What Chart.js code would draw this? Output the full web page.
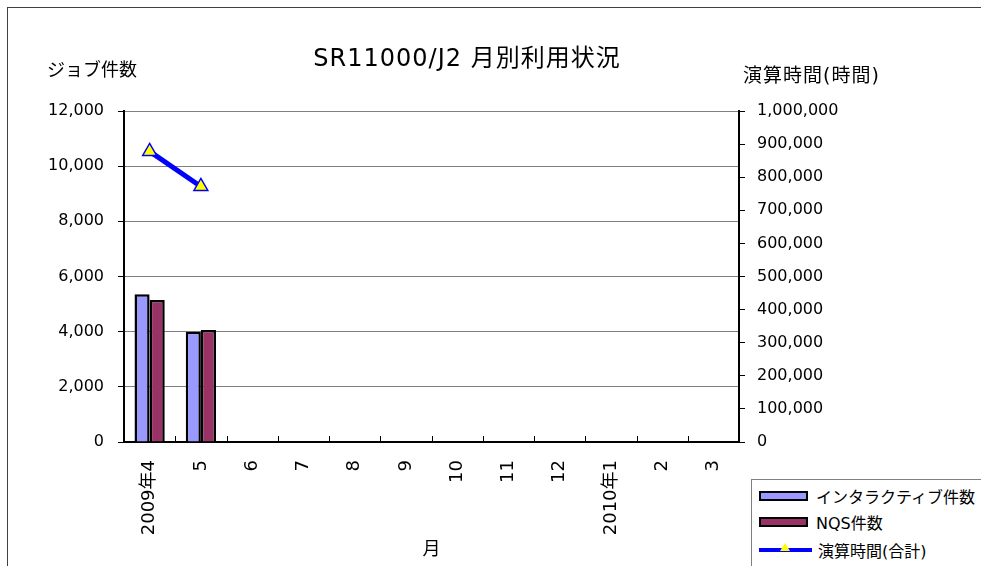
<!DOCTYPE html>
<html>
<head>
<meta charset="utf-8">
<script src="https://cdn.jsdelivr.net/npm/chart.js@4/dist/chart.umd.min.js"></script>
<style>
  body { margin: 0; background: #fff; }
  #wrap { position: relative; width: 981px; height: 566px; overflow: hidden; }
  #legend {
    position: absolute; left: 751px; top: 479px; width: 232px; height: 92px;
    border: 1px solid #808080; background: #fff;
    font-family: "DejaVu Sans", "Noto Sans CJK JP", sans-serif; font-size: 16px; color: #000;
  }
  .row { position: absolute; left: 7px; height: 20px; display: flex; align-items: center; white-space: nowrap; }
  .sw { width: 45px; height: 6px; border: 2px solid #000; margin-right: 8px; }
  .ln { position: relative; width: 53px; height: 4px; background: #0000ff; margin-right: 6px; }
  .ln span {
    position: absolute; left: 21px; top: -5px; width: 0; height: 0;
    border-left: 5px solid transparent; border-right: 5px solid transparent;
    border-bottom: 8px solid #ffff00;
  }
</style>
</head>
<body>
<div id="wrap">
  <canvas id="chart" width="981" height="566"></canvas>
  <div id="legend">
    <div class="row" style="top:6px"><div class="sw" style="background:#9999ff"></div>インタラクティブ件数</div>
    <div class="row" style="top:32px"><div class="sw" style="background:#993366"></div>NQS件数</div>
    <div class="row" style="top:60px"><div class="ln"><span></span></div>演算時間(合計)</div>
  </div>
</div>
<script>
  "use strict";

  var months = ["2009年4", "5", "6", "7", "8", "9", "10", "11", "12", "2010年1", "2", "3"];
  var interactiveJobs = [5360, 4000, null, null, null, null, null, null, null, null, null, null];
  var nqsJobs = [5150, 4060, null, null, null, null, null, null, null, null, null, null];
  var cpuHours = [878000, 772000, null, null, null, null, null, null, null, null, null, null];

  var FONT = '"DejaVu Sans", "Noto Sans CJK JP", sans-serif';

  // frame, titles and inside tick marks of the category axis
  var decorations = {
    id: 'decorations',
    beforeDraw: function (chart) {
      var ctx = chart.ctx;
      ctx.save();
      ctx.fillStyle = '#fff';
      ctx.fillRect(0, 0, chart.width, chart.height);
      ctx.strokeStyle = '#404040';
      ctx.lineWidth = 1;
      ctx.strokeRect(7.5, 7.5, 1200, 1200);
      ctx.restore();
    },
    afterDraw: function (chart) {
      var ctx = chart.ctx, a = chart.chartArea;
      ctx.save();
      ctx.fillStyle = '#000';
      ctx.textBaseline = 'middle';
      ctx.textAlign = 'center';
      ctx.font = '24px ' + FONT;
      ctx.letterSpacing = '1px';
      ctx.fillText('SR11000/J2 月別利用状況', 467, 60);
      ctx.font = '18px ' + FONT;
      ctx.textAlign = 'left';
      ctx.letterSpacing = '0px';
      ctx.fillText('ジョブ件数', 47, 71);
      ctx.font = '19px ' + FONT;
      ctx.letterSpacing = '1px';
      ctx.fillText('演算時間(時間)', 743, 77);
      ctx.letterSpacing = '0px';
      // short tick marks between categories, pointing into the plot
      ctx.strokeStyle = '#000';
      ctx.lineWidth = 1;
      var step = (a.right - a.left) / months.length;
      for (var i = 1; i < months.length; i++) {
        var x = Math.round(a.left + i * step) + 0.5;
        ctx.beginPath();
        ctx.moveTo(x, a.bottom);
        ctx.lineTo(x, a.bottom - 6);
        ctx.stroke();
      }
      ctx.restore();
    }
  };

  var ctx = document.getElementById('chart').getContext('2d');
  var chart = new Chart(ctx, {
    data: {
      labels: months,
      datasets: [{
        type: 'line',
        label: '演算時間(合計)',
        data: cpuHours,
        yAxisID: 'y1',
        borderColor: '#0000ff',
        borderWidth: 5,
        pointStyle: 'triangle',
        pointRadius: 8,
        pointBackgroundColor: '#ffff00',
        pointBorderColor: '#0000ff',
        pointBorderWidth: 1.5,
        tension: 0,
        order: 0
      }, {
        type: 'bar',
        label: 'インタラクティブ件数',
        data: interactiveJobs,
        yAxisID: 'y',
        backgroundColor: '#9999ff',
        borderColor: '#000',
        borderWidth: 2.5,
        categoryPercentage: 0.59,
        barPercentage: 1,
        order: 1
      }, {
        type: 'bar',
        label: 'NQS件数',
        data: nqsJobs,
        yAxisID: 'y',
        backgroundColor: '#993366',
        borderColor: '#000',
        borderWidth: 2.5,
        categoryPercentage: 0.59,
        barPercentage: 1,
        order: 1
      }]
    },
    options: {
      responsive: false,
      animation: false,
      layout: { padding: { top: 111, left: 0, right: 0, bottom: 0 } },
      plugins: {
        legend: { display: false },
        tooltip: { enabled: false }
      },
      scales: {
        x: {
          offset: true,
          grid: { display: false, offset: true },
          border: { color: '#000', width: 2 },
          ticks: {
            color: '#000',
            font: { family: FONT, size: 18 },
            minRotation: 90,
            maxRotation: 90,
            padding: 10,
            autoSkip: false
          },
          title: {
            display: true,
            text: '月',
            color: '#000',
            font: { family: FONT, size: 18 },
            padding: { top: 0, bottom: 5 }
          },
          afterFit: function (scale) { scale.height = 124; }
        },
        y: {
          position: 'left',
          min: 0,
          max: 12000,
          ticks: {
            stepSize: 2000,
            color: '#000',
            padding: 14,
            font: { family: FONT, size: 16 },
            callback: function (v) { return v.toLocaleString('en-US'); }
          },
          grid: { color: '#808080', lineWidth: 1, tickLength: 6, tickColor: '#000' },
          border: { color: '#000', width: 2 },
          afterFit: function (scale) { scale.width = 124; }
        },
        y1: {
          position: 'right',
          min: 0,
          max: 1000000,
          ticks: {
            stepSize: 100000,
            color: '#000',
            padding: 12,
            font: { family: FONT, size: 16 },
            callback: function (v) { return v.toLocaleString('en-US'); }
          },
          grid: { drawOnChartArea: false, tickLength: 6, tickColor: '#000' },
          border: { color: '#000', width: 2 },
          afterFit: function (scale) { scale.width = 242; }
        }
      }
    },
    plugins: [decorations]
  });
</script>
</body>
</html>
